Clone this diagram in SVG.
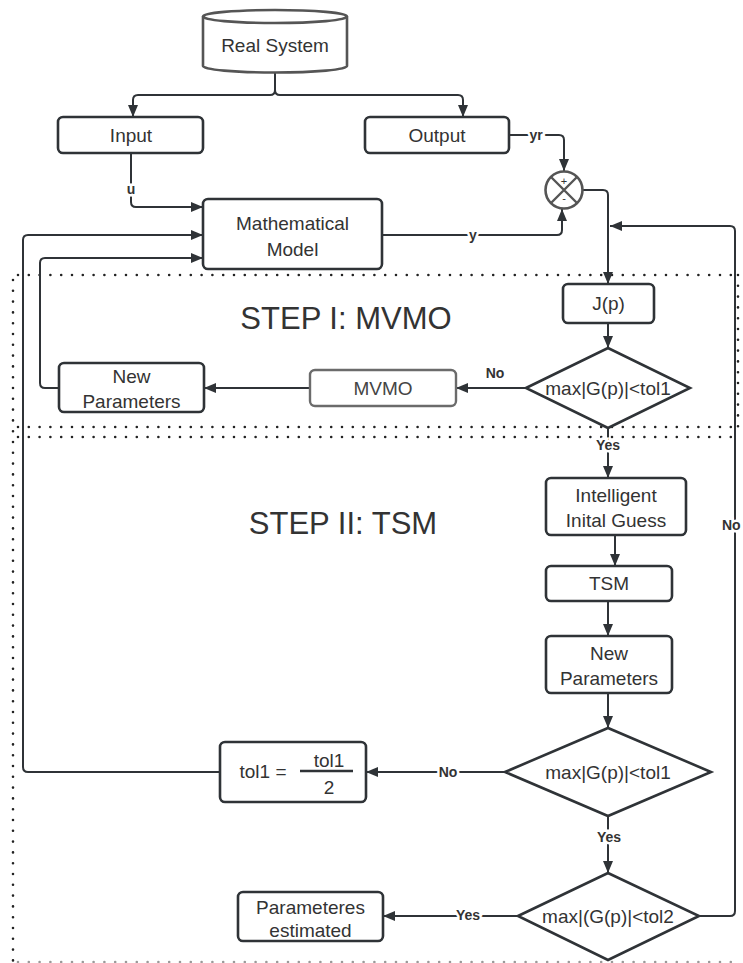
<svg xmlns="http://www.w3.org/2000/svg" width="743" height="963" viewBox="0 0 743 963">
<defs>
<marker id="ah" markerUnits="userSpaceOnUse" markerWidth="13" markerHeight="11" refX="12" refY="5" orient="auto">
<path d="M0,0 L12,5 L0,10 z" fill="#2f3337"/>
</marker>
<style>
.box{fill:#fff;stroke:#2f3337;stroke-width:2.6}
.grey{fill:#fff;stroke:#6b6b6b;stroke-width:2.4}
.t{font-family:"Liberation Sans",Arial,sans-serif;font-size:19px;fill:#333;text-anchor:middle}
.step{font-family:"Liberation Sans",Arial,sans-serif;font-size:31px;fill:#333;text-anchor:middle}
.lbl{font-family:"Liberation Sans",Arial,sans-serif;font-size:14px;font-weight:bold;fill:#333;text-anchor:middle;stroke:#fff;stroke-width:5;paint-order:stroke}
.c{fill:none;stroke:#2f3337;stroke-width:2}
.ca{fill:none;stroke:#2f3337;stroke-width:2;marker-end:url(#ah)}
.dot{fill:none;stroke:#222;stroke-width:2.6;stroke-dasharray:0 10.8;stroke-linecap:round}
</style>
</defs>
<rect width="743" height="963" fill="#fff"/>

<g id="regions">
<path class="dot" d="M18,275 H739"/>
<path class="dot" d="M18,427 H739"/>
<path class="dot" d="M18,437 H739"/>
<path class="dot" d="M13,280 V963"/>
<path class="dot" d="M738,275 V437"/>
<path class="dot" d="M18,962 H739" style="stroke:#999"/>
<text class="step" x="346" y="329">STEP I: MVMO</text>
<text class="step" x="343" y="534">STEP II: TSM</text>
</g>

<g id="connectors">
<path class="c" d="M275,72 V90 Q275,95 270,95 H138 Q133,95 133,100 V104"/>
<path class="ca" d="M133,100 V117"/>
<path class="c" d="M275,90 Q275,95 280,95 H458 Q463,95 463,100"/>
<path class="ca" d="M463,100 V117"/>
<path class="ca" d="M131,153 V202 Q131,207 136,207 H203"/>
<path class="ca" d="M382,235 H557 Q562,235 562,230 V209"/>
<path class="ca" d="M509,135 H559 Q564,135 564,140 V171"/>
<path class="ca" d="M582.5,190 H603 Q608,190 608,195 V284"/>
<path class="ca" d="M608,323 V348"/>
<path class="ca" d="M526,388 H456"/>
<path class="ca" d="M310,388 H204"/>
<path class="ca" d="M59,388 H45 Q40,388 40,383 V263 Q40,258 45,258 H203"/>
<path class="ca" d="M608,428 V478"/>
<path class="ca" d="M615,535 V566"/>
<path class="ca" d="M608,601 V636"/>
<path class="ca" d="M608,693 V728"/>
<path class="ca" d="M505,772 H366"/>
<path class="ca" d="M220,772 H28 Q23,772 23,767 V240 Q23,235 28,235 H203"/>
<path class="ca" d="M608,816 V873"/>
<path class="ca" d="M518,916 H383"/>
<path class="ca" d="M699,916 H730 Q735,916 735,911 V231 Q735,226 730,226 H610"/>
<text class="lbl" x="131" y="194">u</text>
<text class="lbl" x="473" y="240">y</text>
<text class="lbl" x="536" y="140">yr</text>
<text class="lbl" x="495" y="378">No</text>
<text class="lbl" x="608" y="450">Yes</text>
<text class="lbl" x="448" y="777">No</text>
<text class="lbl" x="609" y="842">Yes</text>
<text class="lbl" x="468" y="920">Yes</text>
<text class="lbl" x="722" y="530" style="text-anchor:start">No</text>
</g>

<g id="real-system">
<path d="M203,16.5 V66 A72,6.5 0 0 0 347,66 V16.5" fill="#fff" stroke="#555" stroke-width="2.6"/>
<ellipse cx="275" cy="16.5" rx="72" ry="6.5" fill="#fff" stroke="#555" stroke-width="2.6"/>
<text class="t" x="275" y="51.5">Real System</text>
</g>

<g id="input">
<rect class="box" x="58" y="117" width="145" height="36" rx="5"/>
<text class="t" x="131" y="141.5">Input</text>
</g>

<g id="output">
<rect class="box" x="365" y="117" width="144" height="36" rx="5"/>
<text class="t" x="437" y="141.5">Output</text>
</g>

<g id="model">
<rect class="box" x="203" y="199" width="179" height="70" rx="5"/>
<text class="t" x="292.5" y="229.5">Mathematical</text>
<text class="t" x="292.5" y="255.5">Model</text>
</g>

<g id="sum">
<circle cx="564" cy="190" r="18.5" fill="#fff" stroke="#555" stroke-width="2.6"/>
<path d="M551,177 L577,203 M577,177 L551,203" stroke="#555" stroke-width="2.4"/>
<text x="564" y="185" style="font-family:'Liberation Sans',Arial,sans-serif;font-size:11px;fill:#333;text-anchor:middle">+</text>
<text x="564" y="202" style="font-family:'Liberation Sans',Arial,sans-serif;font-size:11px;fill:#333;text-anchor:middle">-</text>
</g>

<g id="jp">
<rect class="box" x="563" y="284" width="91" height="39" rx="5"/>
<text class="t" x="608.5" y="310">J(p)</text>
</g>

<g id="decision1">
<polygon class="box" points="526,388 608,348 690,388 608,428"/>
<text class="t" x="608" y="394.5">max|G(p)|&lt;tol1</text>
</g>

<g id="mvmo">
<rect class="grey" x="310" y="370" width="146" height="36" rx="5"/>
<text class="t" x="383" y="394.5" style="fill:#444">MVMO</text>
</g>

<g id="new-params-1">
<rect class="box" x="59" y="363" width="145" height="49" rx="5"/>
<text class="t" x="131.5" y="383">New</text>
<text class="t" x="131.5" y="407.5">Parameters</text>
</g>

<g id="initial-guess">
<rect class="box" x="546" y="478" width="140" height="57" rx="5"/>
<text class="t" x="616" y="501.5">Intelligent</text>
<text class="t" x="616" y="526.5">Inital Guess</text>
</g>

<g id="tsm">
<rect class="box" x="546" y="566" width="126" height="35" rx="5"/>
<text class="t" x="609" y="590">TSM</text>
</g>

<g id="new-params-2">
<rect class="box" x="546" y="636" width="126" height="57" rx="5"/>
<text class="t" x="609" y="659.5">New</text>
<text class="t" x="609" y="684.5">Parameters</text>
</g>

<g id="decision2">
<polygon class="box" points="505,772 608,728 711,772 608,816"/>
<text class="t" x="608" y="778.5">max|G(p)|&lt;tol1</text>
</g>

<g id="tol-update">
<rect class="box" x="220" y="742" width="146" height="60" rx="5"/>
<text class="t" x="263" y="778">tol1 =</text>
<path d="M300,771 H353" stroke="#2f3337" stroke-width="2.6"/>
<text class="t" x="329" y="767">tol1</text>
<text class="t" x="329" y="793.5">2</text>
</g>

<g id="decision3">
<polygon class="box" points="518,916 608,873 699,916 608,960"/>
<text class="t" x="608" y="922.5">max|(G(p)|&lt;tol2</text>
</g>

<g id="estimated">
<rect class="box" x="238" y="892" width="145" height="49" rx="5"/>
<text class="t" x="310.5" y="913.5">Parameteres</text>
<text class="t" x="310.5" y="936.5">estimated</text>
</g>
</svg>
